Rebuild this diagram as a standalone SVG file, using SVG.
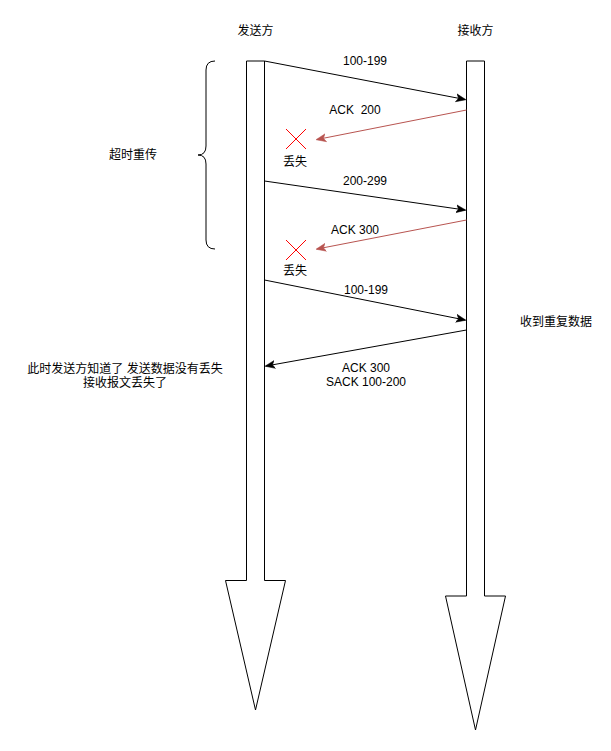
<svg xmlns="http://www.w3.org/2000/svg" width="611" height="751" viewBox="0 0 611 751">
<style>
text{font-family:"Liberation Sans",Arial,"Noto Sans CJK SC",sans-serif;font-size:12px;fill:#000;text-anchor:middle;white-space:pre}
.life{fill:#fff;stroke:#000;stroke-width:1}
.msg{fill:none;stroke:#000;stroke-width:1}
.red{fill:none;stroke:#b85450;stroke-width:1}
.x{stroke:#ff0000;stroke-width:1;fill:none}
</style>
<defs>
<marker id="ab" viewBox="0 0 10 10" refX="9" refY="5" markerWidth="10" markerHeight="10" markerUnits="userSpaceOnUse" orient="auto">
<path d="M0,1 L10,5 L0,9 L2.5,5 Z" fill="#000" stroke="#000" stroke-width="0.5"/>
</marker>
<marker id="ar" viewBox="0 0 10 10" refX="9" refY="5" markerWidth="10" markerHeight="10" markerUnits="userSpaceOnUse" orient="auto">
<path d="M0,1 L10,5 L0,9 L2.5,5 Z" fill="#b85450" stroke="#b85450" stroke-width="0.5"/>
</marker>
</defs>
<g id="sender">
<path class="life" d="M246.5,61 L264.5,61 L264.5,580.5 L285.5,580.5 L255.5,710 L225.5,580.5 L246.5,580.5 Z"/>
<text x="255.5" y="35">发送方</text>
</g>
<g id="receiver">
<path class="life" d="M466.5,61 L484.5,61 L484.5,596 L505.5,596 L475.5,730 L445.5,596 L466.5,596 Z"/>
<text x="475.5" y="35">接收方</text>
</g>
<g id="timeout">
<path class="msg" d="M215,61 Q206,61 206,70 L206,146 Q206,155 198,155 Q206,155 206,164 L206,240 Q206,249 215,249"/>
<text x="133" y="159">超时重传</text>
</g>
<g id="lost1">
<path class="x" d="M286,129 L306,149 M306,129 L286,149"/>
<text x="295" y="166">丢失</text>
</g>
<g id="lost2">
<path class="x" d="M286,240 L306,260 M306,240 L286,260"/>
<text x="295" y="275">丢失</text>
</g>
<g id="connectors">
<line class="msg" x1="264.5" y1="61" x2="465" y2="99.5" marker-end="url(#ab)"/>
<line class="red" x1="466.5" y1="110" x2="317" y2="139.5" marker-end="url(#ar)"/>
<line class="msg" x1="264.5" y1="181" x2="465" y2="210" marker-end="url(#ab)"/>
<line class="red" x1="466.5" y1="220" x2="317" y2="249" marker-end="url(#ar)"/>
<line class="msg" x1="264.5" y1="280" x2="465" y2="320" marker-end="url(#ab)"/>
<line class="msg" x1="466.5" y1="330" x2="266" y2="366" marker-end="url(#ab)"/>
</g>
<g id="labels">
<text x="365" y="65">100-199</text>
<text x="355" y="114" xml:space="preserve">ACK  200</text>
<text x="365" y="185">200-299</text>
<text x="355" y="234">ACK 300</text>
<text x="366" y="294">100-199</text>
<text x="366" y="372">ACK 300</text>
<text x="366" y="386">SACK 100-200</text>
<text x="556" y="326">收到重复数据</text>
<text x="125" y="373">此时发送方知道了 发送数据没有丢失</text>
<text x="125" y="387">接收报文丢失了</text>
</g>
</svg>
